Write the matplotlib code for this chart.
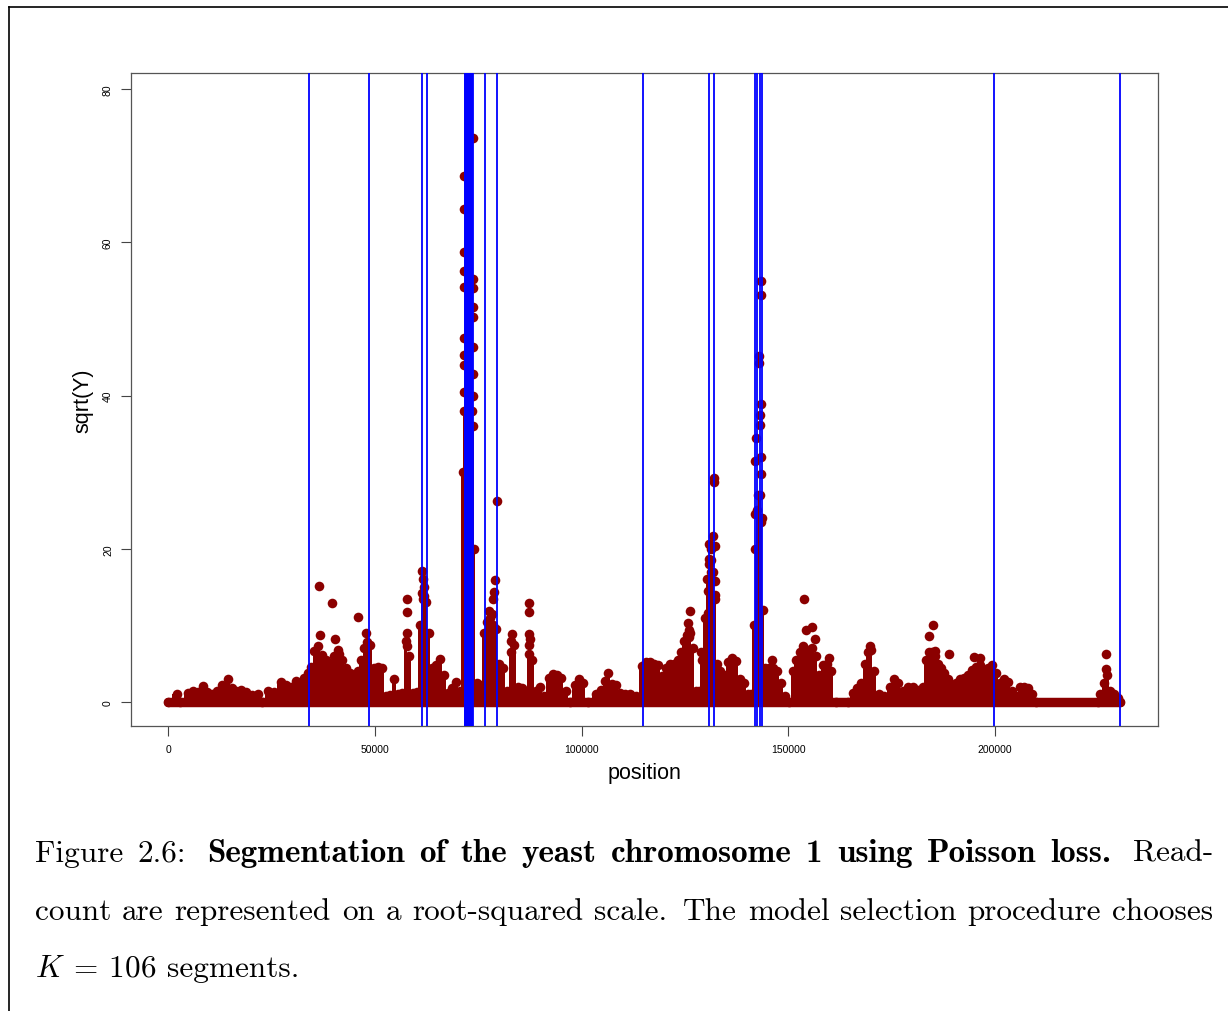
import matplotlib
matplotlib.use("Agg")
import matplotlib.pyplot as plt
from matplotlib.lines import Line2D
import numpy as np

# ------------------------------------------------------------
# Data: yeast chromosome 1 read counts (sqrt scale), positions in kb
# ------------------------------------------------------------
CHROM_LEN = 230218

# upper envelope of the dense read-count cloud
env_kb = [
    0.0, 2.1, 2.9, 4.8, 6.0, 7.3, 8.5, 9.4, 10.6, 11.8, 13.1, 14.5, 15.5, 16.4, 17.7,
    18.9, 20.3, 21.8, 22.7, 24.2, 25.6, 27.3, 28.5, 29.7, 31.0, 31.9, 32.9, 33.9, 34.6,
    35.3, 36.3, 37.2, 38.2, 39.2, 40.1, 41.1, 42.1, 43.0, 44.0, 45.0, 45.9, 46.7, 47.4,
    48.1, 48.8, 49.8, 50.8, 51.7, 52.7, 53.7, 54.6, 55.6, 56.6, 57.5, 58.3, 59.2, 60.2,
    60.9, 61.7, 62.4, 63.1, 63.8, 64.8, 65.8, 66.7, 67.7, 68.7, 69.6, 70.6, 71.3, 71.6,
    72.0, 72.5, 73.0, 73.5, 73.8, 74.0, 74.7, 75.4, 76.4, 77.1, 77.9, 78.6, 79.3, 80.0,
    81.0, 82.0, 82.9, 83.7, 84.6, 85.6, 86.5, 87.3, 88.0, 89.0, 90.0, 90.9, 92.1, 93.1,
    94.1, 95.0, 96.2, 97.2, 98.4, 99.4, 100.3, 101.6, 103.5, 104.7, 105.7, 106.4, 107.4,
    108.3, 109.3, 110.5, 111.7, 113.2, 114.6, 115.6, 116.5, 117.5, 118.5, 119.4, 120.4,
    121.4, 122.4, 123.3, 124.0, 124.8, 125.5, 126.2, 126.9, 127.6, 128.4, 129.1, 129.8,
    130.3, 130.8, 131.3, 131.8, 132.2, 132.7, 133.5, 134.4, 135.4, 136.4, 137.3, 138.3,
    139.3, 140.2, 141.0, 141.7, 142.0, 142.4, 142.8, 143.2, 143.6, 143.9, 144.4, 145.4,
    146.3, 147.3, 148.2, 149.2, 150.2, 151.1, 151.9, 152.8, 153.8, 154.8, 155.7, 156.7,
    157.4, 158.4, 159.3, 160.3, 161.5, 164.4, 165.6, 166.6, 167.6, 168.5, 169.3, 170.0,
    170.7, 171.9, 173.1, 174.6, 175.5, 176.5, 177.7, 178.9, 180.1, 181.4, 182.6, 183.3,
    184.0, 184.7, 185.5, 186.2, 186.9, 187.6, 188.6, 189.6, 190.5, 191.5, 192.5, 193.4,
    194.4, 195.4, 196.3, 197.3, 198.3, 199.2, 200.2, 201.2, 202.1, 203.1, 204.1, 205.0,
    206.0, 207.0, 208.0, 208.9, 209.9, 225.0, 225.4, 226.3, 227.1, 227.8, 228.7, 229.7,
    230.2,
]
env_val = [
    0.0, 1.0, 0.0, 1.2, 1.5, 1.3, 2.1, 1.3, 1.0, 1.5, 2.2, 3.0, 1.8, 1.4, 1.6,
    1.3, 0.9, 1.0, 0.0, 1.4, 1.3, 2.6, 2.2, 2.0, 2.8, 2.2, 3.2, 3.8, 4.6,
    6.6, 7.3, 6.2, 5.5, 5.0, 6.0, 6.8, 5.5, 4.5, 3.8, 3.5, 4.0, 5.5, 7.0,
    7.8, 7.5, 4.5, 4.6, 4.5, 0.8, 0.9, 3.0, 1.0, 1.2, 8.0, 6.0, 1.2, 1.3,
    10.0, 13.5, 13.0, 9.0, 4.5, 4.8, 5.6, 3.5, 1.2, 1.8, 2.6, 1.5, 30.0, 38.0,
    38.0, 38.0, 38.0, 38.0, 36.0, 20.0, 2.5, 2.2, 9.0, 10.5, 11.0, 10.0, 9.5, 5.0,
    4.4, 1.5, 6.5, 7.5, 2.0, 1.8, 1.5, 6.3, 5.5, 1.5, 2.0, 0.8, 3.2, 3.7,
    3.5, 3.2, 1.4, 0.0, 2.2, 3.0, 2.5, 0.0, 1.0, 1.6, 2.8, 3.8, 2.4,
    2.2, 1.2, 1.0, 1.0, 0.8, 4.7, 5.2, 5.2, 5.0, 4.8, 3.4, 4.5,
    5.0, 5.0, 5.5, 6.5, 8.0, 8.7, 9.0, 7.0, 1.5, 1.5, 5.5, 11.0,
    16.0, 18.0, 18.5, 17.0, 14.0, 5.0, 4.0, 3.5, 5.2, 5.7, 5.4, 3.0,
    2.5, 1.0, 1.0, 10.0, 20.0, 25.0, 27.0, 27.0, 24.0, 12.0, 4.5, 4.4,
    4.5, 4.0, 2.5, 0.8, 0.0, 4.0, 5.5, 6.5, 7.0, 6.5, 7.0, 6.0,
    3.5, 4.8, 5.0, 4.0, 0.0, 0.0, 1.2, 1.8, 2.5, 5.0, 6.5, 6.8,
    4.0, 1.0, 0.8, 2.0, 3.0, 2.5, 1.5, 2.0, 2.0, 1.6, 2.0, 5.5,
    6.5, 6.5, 6.0, 5.0, 4.5, 3.8, 3.0, 2.2, 2.5, 3.0, 3.2, 3.5,
    4.2, 4.6, 4.8, 4.0, 4.4, 4.8, 3.8, 2.5, 3.0, 2.6, 1.5, 0.8,
    2.0, 2.0, 1.8, 1.0, 0.0, 0.0, 1.0, 2.5, 3.5, 1.5, 1.0, 0.5,
    0.0,
]

# isolated high counts standing out above the cloud
peak_kb = [
    71.6, 71.6, 71.6, 71.6, 71.6, 71.6, 71.6, 71.6, 71.6,
    73.8, 73.8, 73.8, 73.8, 73.8, 73.8, 73.8, 73.8,
    36.5, 36.8, 39.6, 40.4, 41.3, 45.9, 48.0,
    57.8, 57.8, 57.8, 57.8, 61.4, 61.6, 61.8, 61.5, 62.0,
    79.6, 79.1, 78.9, 78.7, 77.6, 78.3, 83.3, 83.0,
    87.3, 87.3, 87.3, 87.5, 87.3, 125.7, 126.2, 126.1, 125.9, 128.9,
    132.0, 132.1, 131.8, 130.8, 131.4, 132.2, 130.9, 131.3, 132.2, 130.6, 132.2, 130.6,
    143.5, 143.5, 143.0, 143.0, 143.3, 143.1, 143.1, 142.1, 143.5, 141.9, 143.3, 141.9, 143.5,
    146.1, 153.8, 154.3, 155.7, 156.5, 153.5, 159.8, 169.7,
    184.9, 184.0, 185.4, 188.8, 194.9, 196.3, 226.8, 226.8,
]
peak_val = [
    68.6, 64.3, 58.8, 56.2, 54.2, 47.5, 45.3, 44.0, 40.5,
    73.6, 55.2, 54.0, 51.5, 50.3, 46.3, 42.8, 40.0,
    15.1, 8.8, 12.9, 8.2, 6.3, 11.1, 9.0,
    13.4, 11.8, 9.0, 7.3, 17.1, 16.0, 15.0, 14.2, 13.8,
    26.2, 15.9, 14.3, 13.5, 11.9, 11.5, 8.9, 8.0,
    12.9, 11.8, 8.9, 8.2, 7.4, 10.3, 11.9, 9.4, 8.5, 6.5,
    29.2, 28.7, 21.7, 20.6, 20.0, 20.4, 18.7, 17.0, 15.8, 14.5, 13.4, 11.6,
    54.9, 53.1, 45.1, 44.3, 38.9, 37.4, 36.1, 34.4, 32.0, 31.4, 29.7, 24.5, 23.5,
    5.5, 13.5, 9.4, 9.8, 8.2, 7.3, 5.8, 7.3,
    10.0, 8.6, 6.7, 6.3, 5.9, 5.8, 6.3, 4.3,
]

# change-points of the selected segmentation (kb)
breaks_kb = [
    34.1, 48.6, 61.4, 62.6,
    71.80, 71.90, 72.00, 72.10, 72.20, 72.30, 72.40, 72.50, 72.60, 72.70,
    72.80, 72.90, 73.00, 73.10, 73.20, 73.30, 73.40, 73.50, 73.60, 73.70,
    76.65, 79.6, 114.9, 130.8, 132.1,
    142.0, 142.4, 143.05, 143.55,
    199.7, 230.2,
]

x_ticks = [0, 50000, 100000, 150000, 200000]
y_ticks = [0, 20, 40, 60, 80]

W, H = 1228, 1012
RED = "#8b0000"
BLUE = "#0000ff"

fig = plt.figure(figsize=(W / 100, H / 100), dpi=100)
ax = fig.add_axes([131 / W, 1 - 727 / H, (1158 - 131) / W, (727 - 74) / H])

env_pos = np.array(env_kb) * 1000
peak_pos = np.array(peak_kb) * 1000

# zero counts cover the whole chromosome
ax.plot([0, CHROM_LEN], [0, 0], color=RED, lw=6.8, solid_capstyle="round", zorder=2)
ax.fill_between(env_pos, 0, env_val, step="mid", color=RED, lw=0, zorder=2)
ax.scatter(env_pos, env_val, s=48, color=RED, lw=0, zorder=2)
ax.scatter(peak_pos, peak_val, s=48, color=RED, lw=0, zorder=2)

for b in breaks_kb:
    ax.axvline(b * 1000, color=BLUE, lw=1.3, zorder=3)

ax.set_xlim(-8950, 239420)
ax.set_ylim(-3.13, 82.1)
ax.set_xticks(x_ticks)
ax.set_xticklabels([str(v) for v in x_ticks])
ax.set_yticks(y_ticks)
ax.set_yticklabels([str(v) for v in y_ticks], rotation=90, va="center")

for lab in ax.get_xticklabels() + ax.get_yticklabels():
    lab.set_fontfamily("Liberation Sans")
    lab.set_fontsize(7.5)
ax.tick_params(direction="out", length=7, width=0.8, color="#444444", pad=6)
for sp in ax.spines.values():
    sp.set_color("#555555")
    sp.set_linewidth(0.9)

ax.set_xlabel("position", family="Liberation Sans", fontsize=15.5, labelpad=6)
ax.set_ylabel("sqrt(Y)", family="Liberation Sans", fontsize=15.5, labelpad=7)

# page frame
fig.add_artist(Line2D([9 / W, 1], [1 - 8 / H, 1 - 8 / H], transform=fig.transFigure,
                      color="black", lw=1.2))
fig.add_artist(Line2D([9 / W, 9 / W], [0, 1 - 8 / H], transform=fig.transFigure,
                      color="black", lw=1.2))

# caption, set word by word so lines can be justified
plt.rcParams["mathtext.fontset"] = "cm"
CAP_SIZE = 22.5
renderer = fig.canvas.get_renderer()


def place_line(words, y_px, x0, x1=None):
    texts = [fig.text(0, 1 - y_px / H, w, family=fam, fontsize=sz, va="baseline")
             for w, fam, sz in words]
    widths = [t.get_window_extent(renderer).width for t in texts]
    # sentence-ending gaps get a little more room, as TeX does
    weights = [1.5 if w[0].endswith((".", ":")) else 1.0 for w in words[:-1]]
    if x1 is None:
        unit = 0.33 * CAP_SIZE * 100 / 72
    else:
        unit = (x1 - x0 - sum(widths)) / sum(weights)
    x = x0
    for i, (t, w) in enumerate(zip(texts, widths)):
        t.set_x(x / W)
        if i < len(weights):
            x += w + unit * weights[i]


R = ("cmr10", CAP_SIZE)
B = ("cmb10", CAP_SIZE * 1.06)
line1 = [("Figure",) + R, ("2.6:",) + R] + [(w,) + B for w in
         "Segmentation of the yeast chromosome 1 using Poisson loss.".split()] + [("Read-",) + R]
line2 = [(w,) + R for w in
         "count are represented on a root-squared scale. The model selection procedure chooses".split()]
line3 = [(r"$K\:=\:106$",) + R, ("segments.",) + R]

place_line(line1, 862, 35, 1213)
place_line(line2, 920, 35, 1213)
place_line(line3, 977, 35)

fig.savefig("out.png", dpi=100)
